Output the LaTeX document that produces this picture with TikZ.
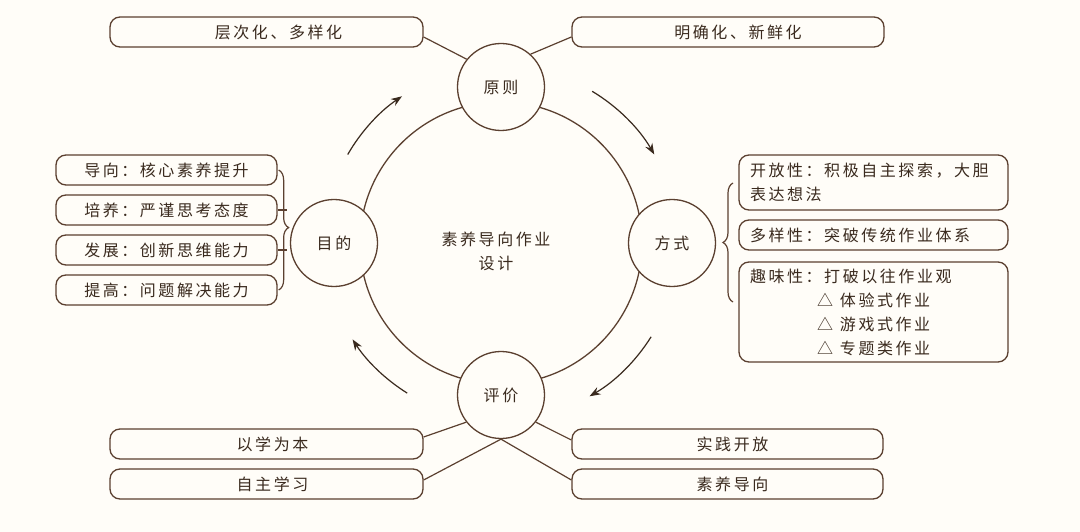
\documentclass[tikz,border=0pt]{standalone}
\usepackage{fontspec}
\usepackage{tikz}
\usetikzlibrary{arrows.meta,positioning,decorations.pathreplacing}
\newfontfamily\cjk[LetterSpace=16]{Noto Sans CJK SC}
\definecolor{inkbrown}{HTML}{5B4030}
\definecolor{txtbrown}{HTML}{3A2A1E}
\definecolor{paper}{HTML}{FFFDF8}

\begin{document}
\begin{tikzpicture}[x=1pt,y=-1pt,on grid,
    every node/.style={font=\cjk\fontsize{16}{24}\selectfont,text=txtbrown},
    ring/.style={circle,draw=inkbrown,line width=1.3pt,minimum size=282pt},
    hub/.style={circle,draw=inkbrown,fill=paper,line width=1.3pt,minimum size=87pt,inner sep=0pt},
    box/.style={rectangle,rounded corners=10pt,draw=inkbrown,line width=1.3pt,minimum height=30pt,inner sep=0pt},
    nudge/.style={execute at begin node={\hspace*{#1}}},
    rbox/.style={box,text width=247pt,inner xsep=11pt,align=left},
    link/.style={draw=inkbrown,line width=1.2pt},
    flow/.style={-{Stealth[length=11pt,width=8pt]},line width=1.2pt,draw=txtbrown}
  ]
  \useasboundingbox[fill=paper] (0,0) rectangle (1080,532);

  % cycle
  \node[ring] (core) at (501,243) {};
  \node[align=center] (title) at (496,251) {素养导向作业\\设计};
  \node[hub] (yuanze)  [above=156pt of core] {原则};
  \node[hub] (fangshi) [right=171pt of core] {方式};
  \node[hub] (pingjia) [below=152pt of core] {评价};
  \node[hub] (mudi)    [left=167pt of core]  {目的};

  \draw[flow] ([shift={(150:177pt)}]core.center) arc[start angle=150,end angle=124,radius=177pt];
  \draw[flow] ([shift={(59:177pt)}]core.center)  arc[start angle=59,end angle=30,radius=177pt];
  \draw[flow] ([shift={(-32:177pt)}]core.center) arc[start angle=-32,end angle=-60,radius=177pt];
  \draw[flow] ([shift={(-122:177pt)}]core.center) arc[start angle=-122,end angle=-147,radius=177pt];

  % top
  \node[box,nudge=24pt,minimum width=313pt] (b_tl) at (266.5,32) {层次化、多样化};
  \node[box,nudge=20pt,minimum width=312pt] (b_tr) at (728,32)   {明确化、新鲜化};

  % left
  \node[box,minimum width=221pt] (b_l1) at (166.5,170) {导向：核心素养提升};
  \node[box,minimum width=221pt] (b_l2) [below=40pt of b_l1] {培养：严谨思考态度};
  \node[box,minimum width=221pt] (b_l3) [below=40pt of b_l2] {发展：创新思维能力};
  \node[box,minimum width=221pt] (b_l4) [below=40pt of b_l3] {提高：问题解决能力};

  % right
  \node[rbox,minimum height=55pt]  (b_r1) at (873.5,182.5) {开放性：积极自主探索，大胆\\表达想法};
  \node[rbox]                      (b_r2) at (873.5,235)   {多样性：突破传统作业体系};
  \node[rbox,minimum height=100pt] (b_r3) at (873.5,312)   {趣味性：打破以往作业观\\
      \hspace*{67pt}△\hspace{7pt}体验式作业\\
      \hspace*{67pt}△\hspace{7pt}游戏式作业\\
      \hspace*{67pt}△\hspace{7pt}专题类作业};

  % bottom
  \node[box,nudge=12pt,minimum width=313pt] (b_bl1) at (266.5,444) {以学为本};
  \node[box,nudge=12pt,minimum width=313pt] (b_bl2) [below=40pt of b_bl1] {自主学习};
  \node[box,nudge=10pt,minimum width=311pt] (b_br1) at (727.5,444) {实践开放};
  \node[box,nudge=10pt,minimum width=311pt] (b_br2) [below=40pt of b_br1] {素养导向};

  \path[link]
    ([yshift=-5pt]b_tl.east)  edge (yuanze.141)
    ([yshift=-5pt]b_tr.west)  edge (yuanze.48)
    ([yshift=7pt]b_bl1.east)  edge (pingjia.218)
    ([yshift=4pt]b_bl2.east)  edge (pingjia.south)
    ([yshift=4pt]b_br1.west)  edge (pingjia.322)
    ([yshift=4pt]b_br2.west)  edge (pingjia.south);

  % braces
  \draw[link,decorate,decoration={brace,amplitude=10pt,aspect=0.48}]
    ([xshift=1pt]b_l1.east) -- ([xshift=1pt]b_l4.east);
  \draw[link] (b_l2.east) -- ++(9,0);
  \draw[link] (b_l3.east) -- ++(9,0);
  \coordinate (rb_top) at (733,183);
  \coordinate (rb_bot) at (733,302);
  \draw[link,decorate,decoration={brace,amplitude=10pt,aspect=0.5}] (rb_bot) -- (rb_top);
\end{tikzpicture}
\end{document}
